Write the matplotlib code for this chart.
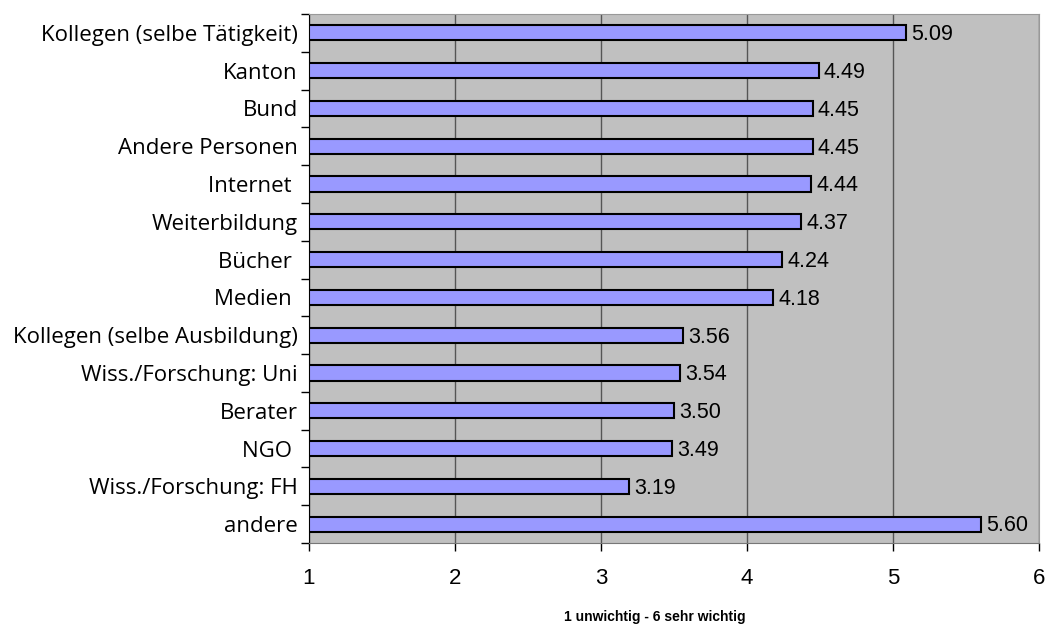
import matplotlib
matplotlib.use("Agg")
import matplotlib.pyplot as plt
import numpy as np

categories = ["Kollegen (selbe Tätigkeit)", "Kanton", "Bund", "Andere Personen",
              "Internet ", "Weiterbildung", "Bücher ", "Medien ",
              "Kollegen (selbe Ausbildung)", "Wiss./Forschung: Uni", "Berater",
              "NGO ", "Wiss./Forschung: FH", "andere"]
values = [5.09, 4.49, 4.45, 4.45, 4.44, 4.37, 4.24, 4.18, 3.56, 3.54, 3.50, 3.49, 3.19, 5.60]
x_ticks = [1, 2, 3, 4, 5, 6]

fig = plt.figure(figsize=(10.47, 6.26), dpi=100)
ax = fig.add_axes([0.295, 0.1326, 0.9924 - 0.295, 0.9776 - 0.1326])
ax.set_facecolor("#C0C0C0")

y = np.arange(len(categories))
ax.barh(y, np.array(values) - 1, left=1, height=0.4, color="#9999FF",
        edgecolor="black", linewidth=1.5, zorder=3)
for yi, v in zip(y, values):
    ax.text(v + 0.035, yi + 0.05, f"{v:.2f}", va="center", ha="left",
            fontsize=15.5, family="Liberation Sans", zorder=4)

ax.set_xlim(1, 6)
ax.set_ylim(len(categories) - 0.5, -0.5)
ax.set_xticks(x_ticks)
ax.set_xticklabels([str(t) for t in x_ticks], fontsize=16, family="Liberation Sans")
ax.tick_params(axis="x", length=6, width=1, pad=12, color="black")

# category labels between boundary ticks (Excel style)
ax.set_yticks(np.arange(len(categories) + 1) - 0.5)
ax.set_yticklabels([])
ax.set_yticks(y, minor=True)
ax.set_yticklabels(categories, minor=True, fontsize=16, family="Open Sans")
ax.tick_params(axis="y", which="major", length=6, width=1, color="black")
ax.tick_params(axis="y", which="minor", length=0, pad=8)

ax.grid(axis="x", color="#555555", linewidth=1, zorder=1)
ax.set_axisbelow(True)
for s in ["top", "right"]:
    ax.spines[s].set_color("#999999")
ax.spines["left"].set_color("black")
ax.spines["bottom"].set_color("#777777")

fig.text(0.625, 0.0144, "1 unwichtig - 6 sehr wichtig", fontsize=10, fontweight="bold",
         family="Liberation Sans", ha="center", va="center")

fig.savefig("out.png", dpi=100)
